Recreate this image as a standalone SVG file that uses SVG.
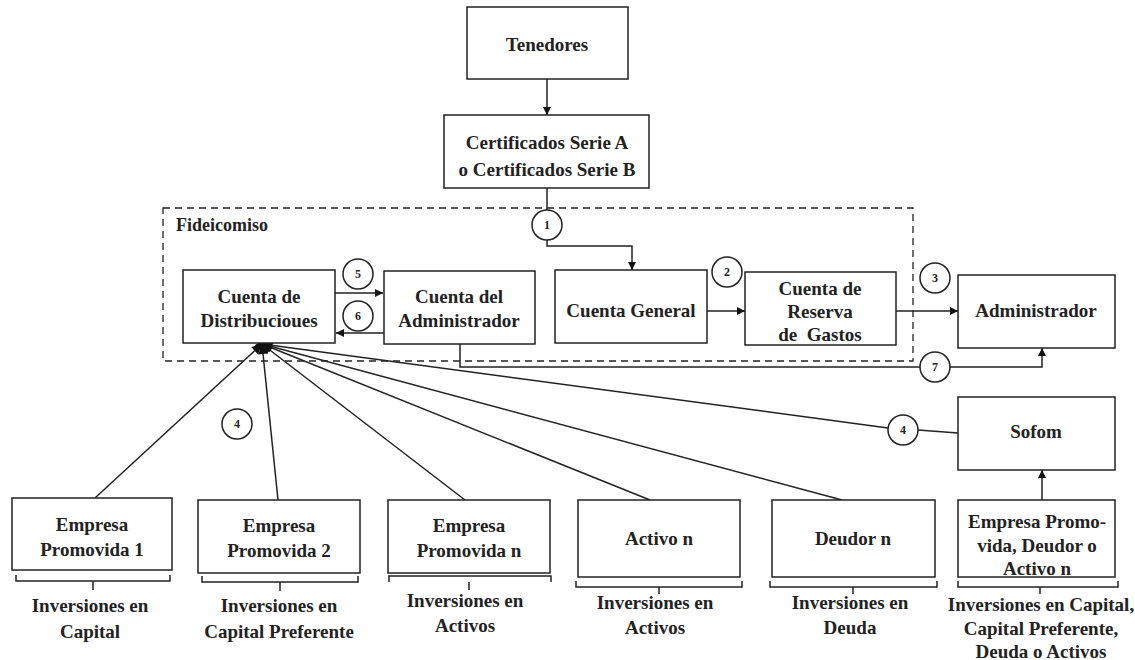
<svg xmlns="http://www.w3.org/2000/svg" width="1135" height="660" viewBox="0 0 1135 660">
  <defs>
    <marker id="arr" viewBox="0 0 10 10" refX="10" refY="5" markerWidth="8" markerHeight="8" markerUnits="userSpaceOnUse" orient="auto">
      <path d="M0,0 L10,5 L0,10 z" fill="#111"/>
    </marker>
    <marker id="arrW" viewBox="0 0 10 10" refX="10" refY="5" markerWidth="12" markerHeight="10" markerUnits="userSpaceOnUse" orient="auto">
      <path d="M0,0 L10,5 L0,10 z" fill="#111"/>
    </marker>
    <style>
      .box { fill: #fff; stroke: #222; stroke-width: 1.5; }
      .t { font-family: "Liberation Serif", "Times New Roman", serif; font-weight: bold; font-size: 19px; fill: #222; text-anchor: middle; }
      .lbl { font-family: "Liberation Serif", "Times New Roman", serif; font-weight: bold; font-size: 19px; fill: #222; text-anchor: middle; }
      .num { font-family: "Liberation Serif", "Times New Roman", serif; font-weight: bold; font-size: 12px; fill: #222; text-anchor: middle; }
      .circ { fill: #fff; stroke: #222; stroke-width: 1.5; }
      .ln { fill: none; stroke: #222; stroke-width: 1.5; }
      .brace { fill: none; stroke: #222; stroke-width: 1.5; }
    </style>
  </defs>

  <!-- Fideicomiso boundary -->
  <g id="fideicomiso">
    <rect x="163" y="208" width="750" height="153" fill="none" stroke="#222" stroke-width="1.3" stroke-dasharray="7,5"/>
    <text x="176" y="231" class="t" style="text-anchor:start;font-size:18px">Fideicomiso</text>
  </g>

  <!-- Connectors -->
  <g id="connectors">
    <line class="ln" x1="547" y1="79" x2="547" y2="115" marker-end="url(#arr)"/>
    <line class="ln" x1="547" y1="188" x2="547" y2="210"/>
    <polyline class="ln" points="547,240 547,246 632,246 632,270" marker-end="url(#arr)"/>
    <line class="ln" x1="335" y1="293" x2="383" y2="293" marker-end="url(#arr)"/>
    <line class="ln" x1="384" y1="333" x2="336" y2="333" marker-end="url(#arr)"/>
    <line class="ln" x1="707" y1="311" x2="745" y2="311" marker-end="url(#arr)"/>
    <line class="ln" x1="896" y1="311" x2="958" y2="311" marker-end="url(#arr)"/>
    <polyline class="ln" points="460,344 460,367 920,367"/>
    <polyline class="ln" points="950,367 1042,367 1042,348" marker-end="url(#arr)"/>
    <!-- investments converging on Cuenta de Distribuciones -->
    <line class="ln" x1="95" y1="498" x2="262" y2="344" marker-end="url(#arrW)"/>
    <line class="ln" x1="278" y1="500" x2="262" y2="344" marker-end="url(#arrW)"/>
    <line class="ln" x1="465" y1="500" x2="262" y2="344" marker-end="url(#arrW)"/>
    <line class="ln" x1="650" y1="500" x2="262" y2="344" marker-end="url(#arrW)"/>
    <line class="ln" x1="842" y1="500" x2="262" y2="344" marker-end="url(#arrW)"/>
    <line class="ln" x1="888" y1="428" x2="262" y2="344" marker-end="url(#arrW)"/>
    <line class="ln" x1="958" y1="433" x2="918" y2="430"/>
    <line class="ln" x1="1042" y1="500" x2="1042" y2="470" marker-end="url(#arr)"/>
    <ellipse cx="262" cy="346" rx="7" ry="3.5" fill="#111"/>

    <!-- step numbers -->
    <circle class="circ" cx="547" cy="225" r="15"/><text class="num" x="547" y="229">1</text>
    <circle class="circ" cx="727" cy="272" r="15"/><text class="num" x="727" y="276">2</text>
    <circle class="circ" cx="935" cy="278" r="15"/><text class="num" x="935" y="282">3</text>
    <circle class="circ" cx="237" cy="424" r="15"/><text class="num" x="237" y="428">4</text>
    <circle class="circ" cx="903" cy="430" r="15"/><text class="num" x="903" y="434">4</text>
    <circle class="circ" cx="358" cy="274" r="15"/><text class="num" x="358" y="278">5</text>
    <circle class="circ" cx="358" cy="316" r="15"/><text class="num" x="358" y="320">6</text>
    <circle class="circ" cx="935" cy="367" r="15"/><text class="num" x="935" y="371">7</text>
  </g>

  <g id="tenedores">
    <rect class="box" x="467" y="7" width="161" height="72"/>
    <text class="t" x="547" y="51">Tenedores</text>
  </g>

  <g id="certificados">
    <rect class="box" x="444" y="115" width="205" height="73"/>
    <text class="t" x="547" y="149">Certificados Serie A</text>
    <text class="t" x="547" y="176">o Certificados Serie B</text>
  </g>

  <g id="cuenta-distribuciones">
    <rect class="box" x="183" y="270" width="152" height="73"/>
    <text class="t" x="259" y="303">Cuenta de</text>
    <text class="t" x="259" y="327">Distribucioues</text>
  </g>

  <g id="cuenta-administrador">
    <rect class="box" x="384" y="271" width="151" height="73"/>
    <text class="t" x="459" y="303">Cuenta del</text>
    <text class="t" x="459" y="327">Administrador</text>
  </g>

  <g id="cuenta-general">
    <rect class="box" x="555" y="270" width="152" height="73"/>
    <text class="t" x="631" y="317">Cuenta General</text>
  </g>

  <g id="cuenta-reserva">
    <rect class="box" x="745" y="272" width="151" height="73"/>
    <text class="t" x="820" y="295">Cuenta de</text>
    <text class="t" x="820" y="318">Reserva</text>
    <text class="t" x="820" y="341">de&#160; Gastos</text>
  </g>

  <g id="administrador">
    <rect class="box" x="958" y="275" width="157" height="73"/>
    <text class="t" x="1036" y="317">Administrador</text>
  </g>

  <g id="sofom">
    <rect class="box" x="958" y="397" width="157" height="73"/>
    <text class="t" x="1036" y="438">Sofom</text>
  </g>

  <g id="empresa-1">
    <rect class="box" x="12" y="498" width="160" height="72"/>
    <text class="t" x="92" y="531">Empresa</text>
    <text class="t" x="92" y="556">Promovida 1</text>
    <path class="brace" d="M16,575 V581 H170 V575 M93,581 V590"/>
    <text class="lbl" x="90" y="612">Inversiones en</text>
    <text class="lbl" x="90" y="638">Capital</text>
  </g>

  <g id="empresa-2">
    <rect class="box" x="198" y="500" width="162" height="73"/>
    <text class="t" x="279" y="532">Empresa</text>
    <text class="t" x="279" y="557">Promovida 2</text>
    <path class="brace" d="M202,576 V582 H358 V576 M280,582 V591"/>
    <text class="lbl" x="279" y="612">Inversiones en</text>
    <text class="lbl" x="279" y="638">Capital Preferente</text>
  </g>

  <g id="empresa-n">
    <rect class="box" x="388" y="500" width="162" height="73"/>
    <text class="t" x="469" y="532">Empresa</text>
    <text class="t" x="469" y="557">Promovida n</text>
    <path class="brace" d="M389,582 V576 H551 V582 M469,582 V590"/>
    <text class="lbl" x="465" y="607">Inversiones en</text>
    <text class="lbl" x="465" y="632">Activos</text>
  </g>

  <g id="activo-n">
    <rect class="box" x="578" y="500" width="162" height="77"/>
    <text class="t" x="659" y="545">Activo n</text>
    <path class="brace" d="M576,581 V587 H742 V581 M659,587 V594"/>
    <text class="lbl" x="655" y="609">Inversiones en</text>
    <text class="lbl" x="655" y="634">Activos</text>
  </g>

  <g id="deudor-n">
    <rect class="box" x="772" y="500" width="163" height="77"/>
    <text class="t" x="853" y="545">Deudor n</text>
    <path class="brace" d="M770,581 V587 H937 V581 M853,587 V594"/>
    <text class="lbl" x="850" y="609">Inversiones en</text>
    <text class="lbl" x="850" y="634">Deuda</text>
  </g>

  <g id="empresa-deudor-activo">
    <rect class="box" x="958" y="500" width="157" height="77"/>
    <text class="t" x="1037" y="528">Empresa Promo-</text>
    <text class="t" x="1037" y="552">vida, Deudor o</text>
    <text class="t" x="1037" y="575">Activo n</text>
    <path class="brace" d="M958,581 V587 H1118 V581 M1040,587 V594"/>
    <text class="lbl" x="1041" y="611">Inversiones en Capital,</text>
    <text class="lbl" x="1041" y="635">Capital Preferente,</text>
    <text class="lbl" x="1041" y="658">Deuda o Activos</text>
  </g>
</svg>
